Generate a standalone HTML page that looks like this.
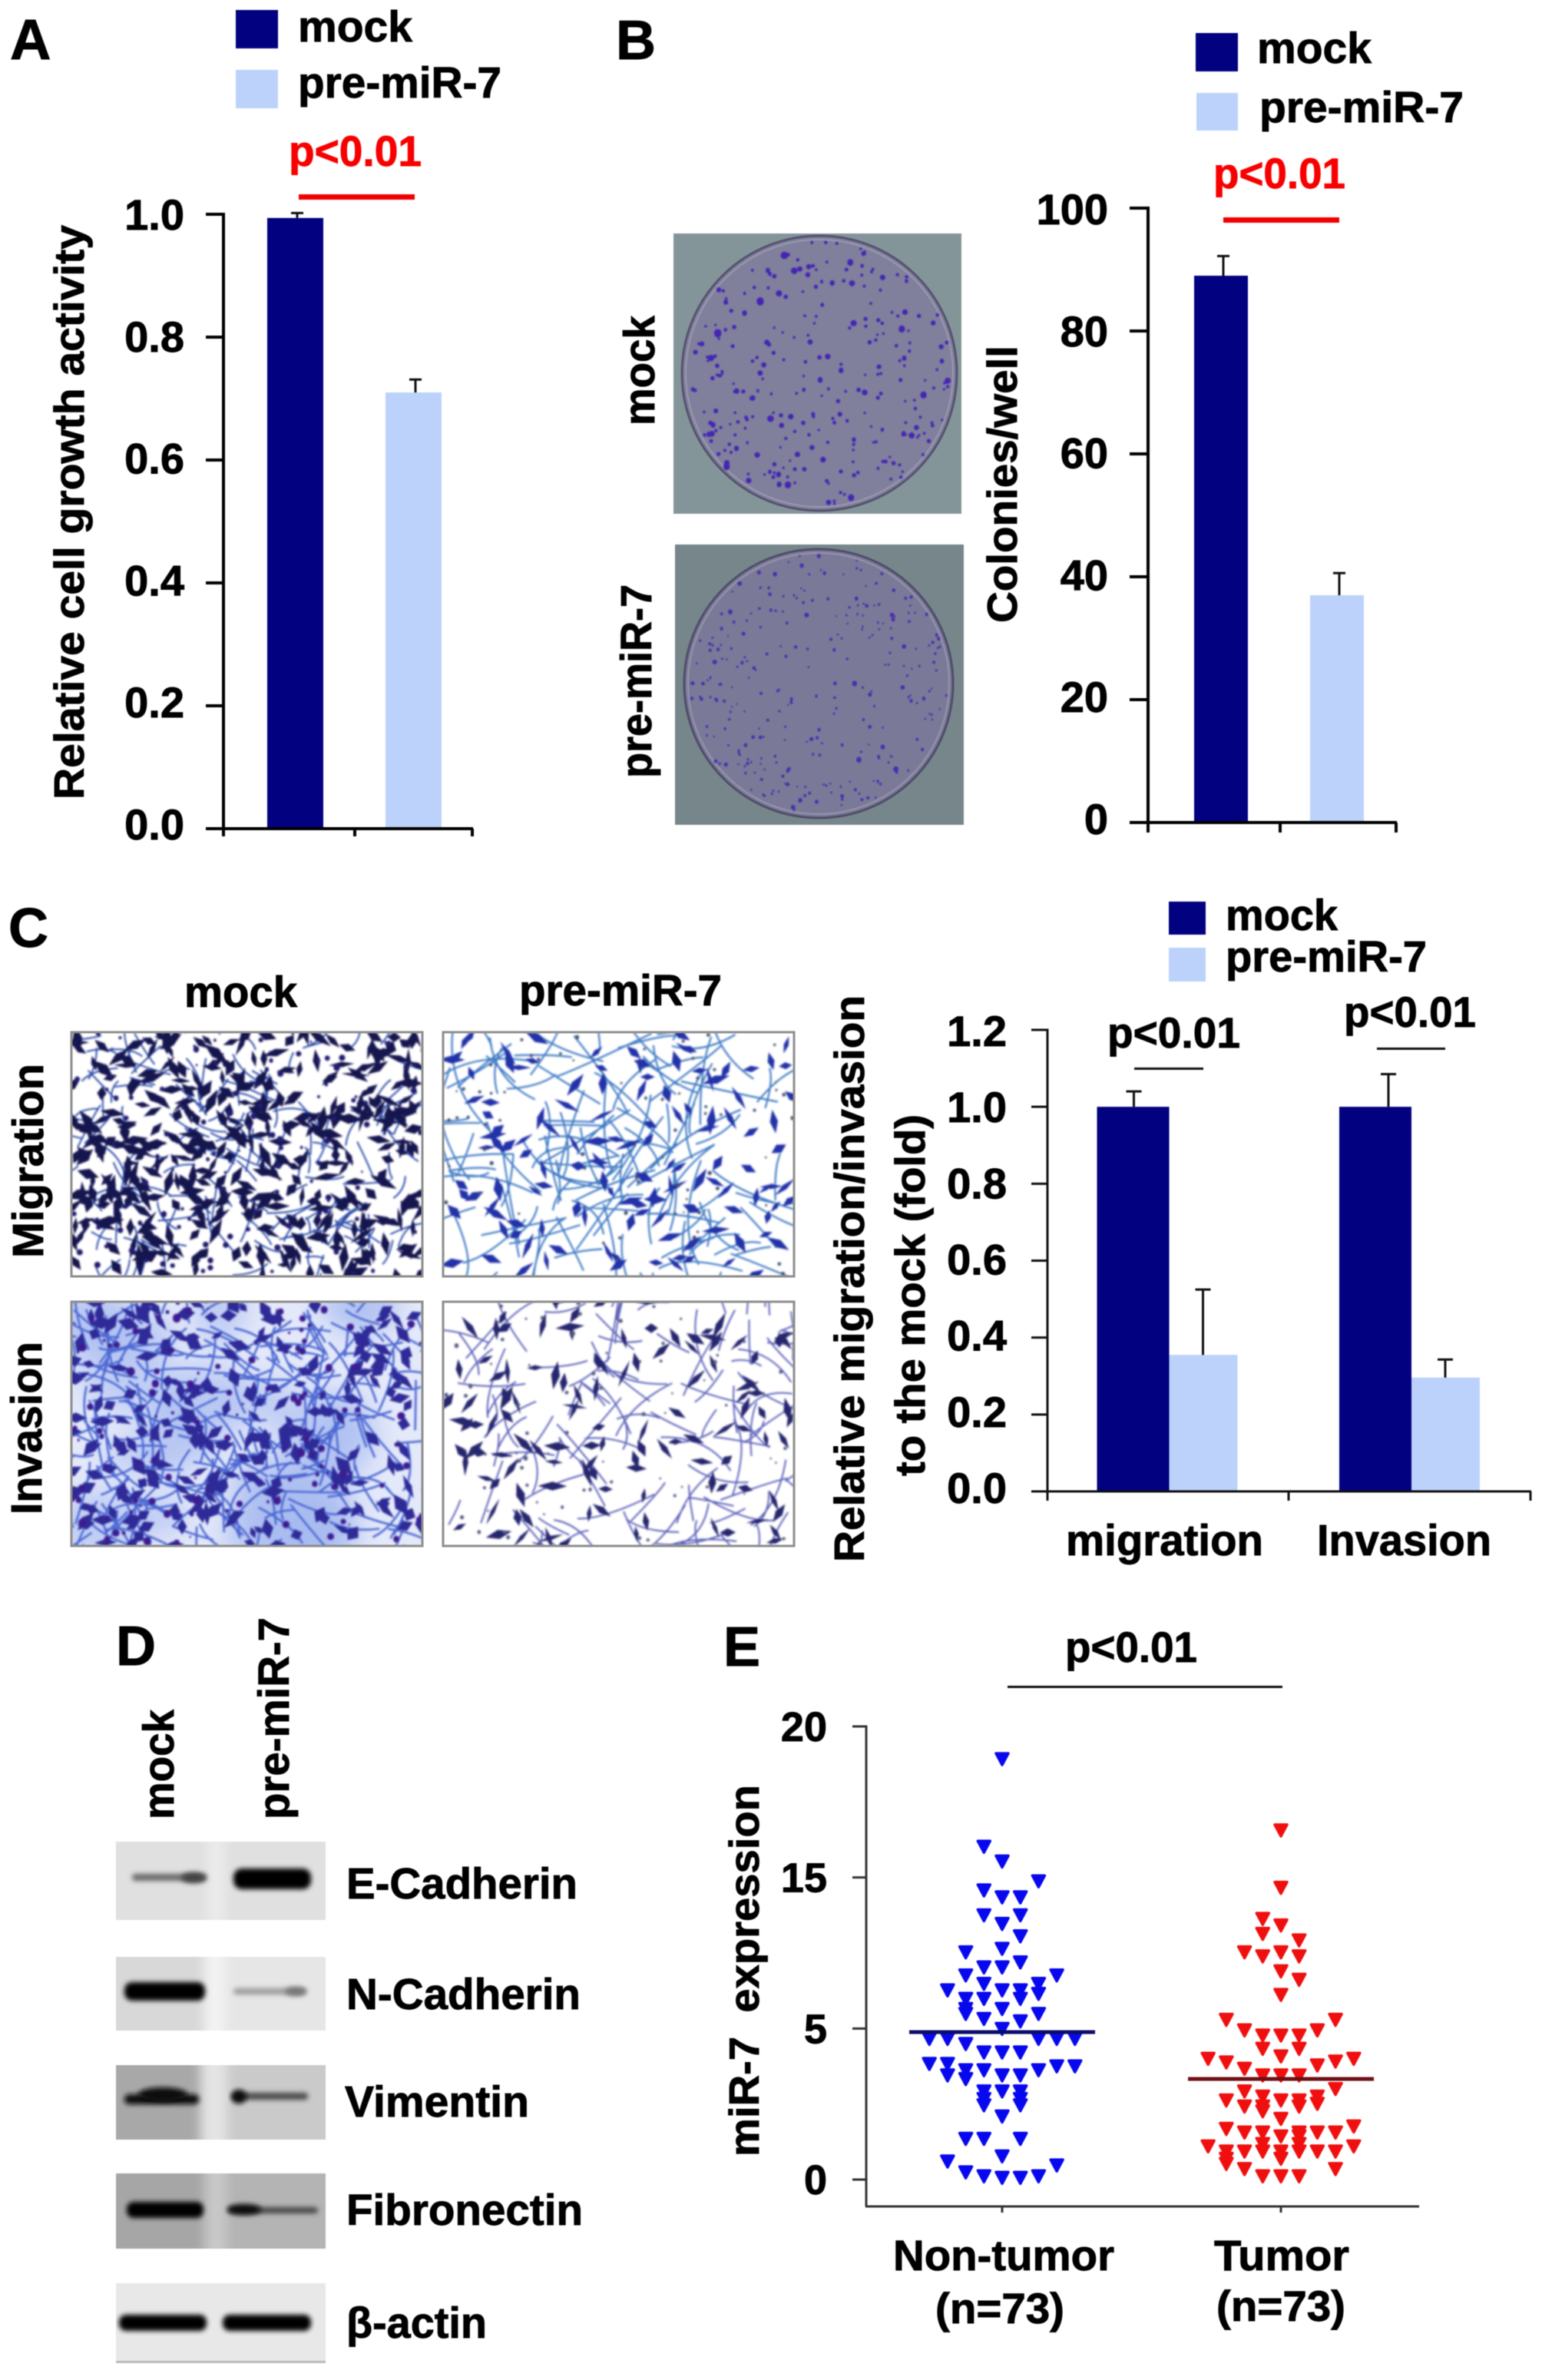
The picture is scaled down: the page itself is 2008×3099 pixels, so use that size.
<!DOCTYPE html>
<html lang="en">
<head>
<meta charset="utf-8">
<title>miR-7 figure</title>
<style>
html,body{margin:0;padding:0;background:#fff;}
svg{display:block;filter:blur(0.6px);}
text{font-family:"Liberation Sans",Arial,sans-serif;font-weight:bold;fill:#000;stroke:#000;stroke-width:0.9px;}
.ttl{font-size:55px;}
.red{fill:#f80000;stroke:#f80000;}
</style>
</head>
<body>
<svg id="fig" xmlns="http://www.w3.org/2000/svg" width="2008" height="3099" viewBox="0 0 2008 3099">
<defs>
<filter id="b1" x="-5%" y="-5%" width="110%" height="110%"><feGaussianBlur stdDeviation="1.1"/></filter>
<filter id="b2" x="-5%" y="-5%" width="110%" height="110%"><feGaussianBlur stdDeviation="0.8"/></filter>
<filter id="b5" x="-20%" y="-120%" width="140%" height="340%"><feGaussianBlur stdDeviation="3.2"/></filter>
<filter id="b9" x="-20%" y="-20%" width="140%" height="140%"><feGaussianBlur stdDeviation="7"/></filter>
<filter id="b14" x="-20%" y="-20%" width="140%" height="140%"><feGaussianBlur stdDeviation="16"/></filter>
<clipPath id="clipM1"><rect x="93" y="1344" width="457" height="318"/></clipPath>
<clipPath id="clipM2"><rect x="577" y="1344" width="457" height="318"/></clipPath>
<clipPath id="clipI1"><rect x="93" y="1695" width="457" height="318"/></clipPath>
<clipPath id="clipI2"><rect x="577" y="1695" width="457" height="318"/></clipPath>
<clipPath id="cb1"><rect x="151" y="2398" width="273" height="102"/></clipPath>
<clipPath id="cb2"><rect x="151" y="2548" width="273" height="96"/></clipPath>
<clipPath id="cb3"><rect x="151" y="2689" width="273" height="97"/></clipPath>
<clipPath id="cb4"><rect x="151" y="2830" width="273" height="98"/></clipPath>
<clipPath id="cb5"><rect x="151" y="2973" width="273" height="104"/></clipPath>
</defs>
<rect width="2008" height="3099" fill="#fff"/>

<!-- Panel letters -->
<text x="13" y="77" font-size="74">A</text>
<text x="802" y="77" font-size="72">B</text>
<text x="11" y="1233" font-size="72">C</text>
<text x="151" y="2168" font-size="72">D</text>
<text x="942" y="2169" font-size="72">E</text>

<!-- Panel A static -->
<g>
<rect x="307" y="13" width="55" height="50" fill="#020281"/>
<rect x="307" y="91" width="55" height="50" fill="#bcd2fb"/>
<text x="388" y="54" font-size="57" textLength="149" lengthAdjust="spacingAndGlyphs">mock</text>
<text x="388" y="127" font-size="57" textLength="265" lengthAdjust="spacingAndGlyphs">pre-miR-7</text>
</g>
<text class="red" x="376" y="216" font-size="56" textLength="173" lengthAdjust="spacingAndGlyphs">p&lt;0.01</text>
<rect x="389" y="253" width="151" height="7" fill="#f00000"/>
<text class="ttl" transform="translate(109,1041) rotate(-90)" textLength="748" lengthAdjust="spacingAndGlyphs">Relative cell growth activity</text>
<g id="chartA"></g>

<!-- Panel B static -->
<g>
<rect x="877" y="304" width="375" height="365" fill="#84959a"/>
<circle cx="1067" cy="486" r="179" fill="#80809c" stroke="#55536f" stroke-width="3"/>
<circle cx="1067" cy="486" r="174" fill="none" stroke="#9898ae" stroke-width="2"/>
<g id="dish1" filter="url(#b2)"></g>
</g>
<g>
<rect x="879" y="709" width="376" height="365" fill="#76868a"/>
<circle cx="1066" cy="890" r="175" fill="#7a7a98" stroke="#4f4d6a" stroke-width="3"/>
<circle cx="1066" cy="890" r="170" fill="none" stroke="#9494aa" stroke-width="2"/>
<g id="dish2" filter="url(#b2)"></g>
</g>
<text transform="translate(852,554) rotate(-90)" font-size="57" textLength="143" lengthAdjust="spacingAndGlyphs">mock</text>
<text transform="translate(848,1013) rotate(-90)" font-size="57" textLength="252" lengthAdjust="spacingAndGlyphs">pre-miR-7</text>
<g>
<rect x="1557" y="43" width="55" height="50" fill="#020281"/>
<rect x="1558" y="121" width="54" height="49" fill="#bcd2fb"/>
<text x="1637" y="82" font-size="57" textLength="149" lengthAdjust="spacingAndGlyphs">mock</text>
<text x="1640" y="159" font-size="57" textLength="266" lengthAdjust="spacingAndGlyphs">pre-miR-7</text>
</g>
<text class="red" x="1580" y="245" font-size="56" textLength="172" lengthAdjust="spacingAndGlyphs">p&lt;0.01</text>
<rect x="1593" y="283" width="151" height="7" fill="#f00000"/>
<text class="ttl" transform="translate(1324,811) rotate(-90)" textLength="361" lengthAdjust="spacingAndGlyphs">Colonies/well</text>
<g id="chartB"></g>

<!-- Panel C static -->
<text x="240" y="1311" font-size="57" textLength="147" lengthAdjust="spacingAndGlyphs">mock</text>
<text x="676" y="1309" font-size="57" textLength="264" lengthAdjust="spacingAndGlyphs">pre-miR-7</text>
<text transform="translate(56,1638) rotate(-90)" font-size="57" textLength="253" lengthAdjust="spacingAndGlyphs">Migration</text>
<text transform="translate(54,1972) rotate(-90)" font-size="57" textLength="225" lengthAdjust="spacingAndGlyphs">Invasion</text>
<g><rect x="93" y="1344" width="457" height="318" fill="#fff"/><g id="m1" clip-path="url(#clipM1)"></g><rect x="93" y="1344" width="457" height="318" fill="none" stroke="#8c8c8c" stroke-width="3"/></g>
<g><rect x="577" y="1344" width="457" height="318" fill="#fff"/><g id="m2" clip-path="url(#clipM2)"></g><rect x="577" y="1344" width="457" height="318" fill="none" stroke="#8c8c8c" stroke-width="3"/></g>
<g><rect x="93" y="1695" width="457" height="318" fill="#e4e9fa"/><g id="m3" clip-path="url(#clipI1)"></g><rect x="93" y="1695" width="457" height="318" fill="none" stroke="#8c8c8c" stroke-width="3"/></g>
<g><rect x="577" y="1695" width="457" height="318" fill="#fff"/><g id="m4" clip-path="url(#clipI2)"></g><rect x="577" y="1695" width="457" height="318" fill="none" stroke="#8c8c8c" stroke-width="3"/></g>
<g>
<rect x="1522" y="1174" width="48" height="43" fill="#020281"/>
<rect x="1522" y="1234" width="48" height="44" fill="#bcd2fb"/>
<text x="1596" y="1211" font-size="57" textLength="146" lengthAdjust="spacingAndGlyphs">mock</text>
<text x="1596" y="1265" font-size="57" textLength="262" lengthAdjust="spacingAndGlyphs">pre-miR-7</text>
</g>
<text x="1442" y="1364" font-size="56" textLength="173" lengthAdjust="spacingAndGlyphs">p&lt;0.01</text>
<rect x="1477" y="1390" width="90" height="3" fill="#111"/>
<text x="1750" y="1337" font-size="56" textLength="172" lengthAdjust="spacingAndGlyphs">p&lt;0.01</text>
<rect x="1793" y="1364" width="89" height="3" fill="#111"/>
<text class="ttl" transform="translate(1125,2034) rotate(-90)" textLength="738" lengthAdjust="spacingAndGlyphs">Relative migration/invasion</text>
<text class="ttl" transform="translate(1204,1922) rotate(-90)" textLength="471" lengthAdjust="spacingAndGlyphs">to the mock (fold)</text>
<g id="chartC"></g>

<!-- Panel D static -->
<text transform="translate(226,2369) rotate(-90)" font-size="57" textLength="143" lengthAdjust="spacingAndGlyphs">mock</text>
<text transform="translate(376,2369) rotate(-90)" font-size="57" textLength="263" lengthAdjust="spacingAndGlyphs">pre-miR-7</text>

<g clip-path="url(#cb1)">
<g filter="url(#b9)"><rect x="130" y="2380" width="320" height="140" fill="#e0e0e0"/><rect x="270" y="2380" width="22" height="140" fill="#ebebeb"/></g>
<rect x="172" y="2440" width="97" height="9" rx="4" fill="#666" filter="url(#b5)"/>
<ellipse cx="252" cy="2445" rx="16" ry="7" fill="#444" filter="url(#b5)"/>
<rect x="304" y="2433" width="101" height="27" rx="11" fill="#000" filter="url(#b5)"/>
</g>
<g clip-path="url(#cb2)">
<g filter="url(#b9)"><rect x="130" y="2530" width="320" height="130" fill="#e6e6e6"/><rect x="130" y="2530" width="135" height="130" fill="#d8d8d8"/><rect x="268" y="2530" width="24" height="130" fill="#f3f3f3"/></g>
<rect x="162" y="2581" width="105" height="24" rx="10" fill="#000" filter="url(#b5)"/>
<rect x="304" y="2589" width="95" height="8" rx="4" fill="#999" filter="url(#b5)"/>
<ellipse cx="385" cy="2593" rx="14" ry="6" fill="#777" filter="url(#b5)"/>
</g>
<g clip-path="url(#cb3)">
<g filter="url(#b9)"><rect x="130" y="2670" width="320" height="130" fill="#cacaca"/><rect x="130" y="2670" width="131" height="130" fill="#a8a8a8"/><rect x="263" y="2670" width="32" height="130" fill="#e4e4e4"/></g>
<rect x="162" y="2727" width="97" height="13" rx="6" fill="#0c0c0c" filter="url(#b5)"/>
<ellipse cx="212" cy="2727" rx="32" ry="9" fill="#0c0c0c" filter="url(#b5)"/>
<rect x="303" y="2725" width="98" height="9" rx="4" fill="#444" filter="url(#b5)"/>
<ellipse cx="311" cy="2730" rx="10" ry="9" fill="#111" filter="url(#b5)"/>
</g>
<g clip-path="url(#cb4)">
<g filter="url(#b9)"><rect x="130" y="2810" width="320" height="135" fill="#b4b4b4"/><rect x="130" y="2810" width="135" height="135" fill="#a6a6a6"/><rect x="268" y="2810" width="27" height="135" fill="#c8c8c8"/></g>
<rect x="165" y="2867" width="100" height="21" rx="9" fill="#000" filter="url(#b5)"/>
<rect x="297" y="2874" width="117" height="8" rx="4" fill="#444" filter="url(#b5)"/>
<ellipse cx="318" cy="2877" rx="22" ry="7" fill="#111" filter="url(#b5)"/>
</g>
<g clip-path="url(#cb5)">
<rect x="151" y="2973" width="273" height="104" fill="#e8e8e8"/>
<rect x="155" y="3014" width="114" height="21" rx="9" fill="#000" filter="url(#b5)"/>
<rect x="290" y="3014" width="115" height="21" rx="9" fill="#000" filter="url(#b5)"/>
<rect x="151" y="3074" width="273" height="3" fill="#bbb"/>
</g>
<text x="451" y="2472" font-size="57" textLength="301" lengthAdjust="spacingAndGlyphs">E-Cadherin</text>
<text x="451" y="2616" font-size="57" textLength="305" lengthAdjust="spacingAndGlyphs">N-Cadherin</text>
<text x="449" y="2756" font-size="57" textLength="240" lengthAdjust="spacingAndGlyphs">Vimentin</text>
<text x="451" y="2897" font-size="57" textLength="308" lengthAdjust="spacingAndGlyphs">Fibronectin</text>
<text x="451" y="3044" font-size="57" textLength="183" lengthAdjust="spacingAndGlyphs">β-actin</text>

<!-- Panel E static -->
<text x="1387" y="2164" font-size="56" textLength="172" lengthAdjust="spacingAndGlyphs">p&lt;0.01</text>
<rect x="1312" y="2195" width="358" height="3" fill="#111"/>
<text class="ttl" transform="translate(988,2808) rotate(-90)" xml:space="preserve" textLength="484" lengthAdjust="spacingAndGlyphs">miR-7  expression</text>
<g id="chartE"></g>
<text x="1218" y="3025" font-size="56" textLength="168" lengthAdjust="spacingAndGlyphs">(n=73)</text>
<text x="1584" y="3022" font-size="56" textLength="168" lengthAdjust="spacingAndGlyphs">(n=73)</text>
</svg>

<script>
/* ---------- chart data ---------- */
const growthCategories = ['mock', 'pre-miR-7'];
const growthMeans = [0.994, 0.71];
const growthErrors = [0.008, 0.021];
const growthTicks = [0, 0.2, 0.4, 0.6, 0.8, 1.0];
const growthTickLabels = ['0.0', '0.2', '0.4', '0.6', '0.8', '1.0'];

const colonyCategories = ['mock', 'pre-miR-7'];
const colonyMeans = [89, 37];
const colonyErrors = [3.2, 3.6];
const colonyTicks = [0, 20, 40, 60, 80, 100];
const colonyTickLabels = ['0', '20', '40', '60', '80', '100'];

const migrationGroups = ['migration', 'Invasion'];
const migrationMock = [1.0, 1.0];
const migrationMockErrors = [0.04, 0.085];
const migrationMir = [0.355, 0.296];
const migrationMirErrors = [0.17, 0.047];
const migrationTicks = [0, 0.2, 0.4, 0.6, 0.8, 1.0, 1.2];
const migrationTickLabels = ['0.0', '0.2', '0.4', '0.6', '0.8', '1.0', '1.2'];

const expressionGroups = ['Non-tumor', 'Tumor'];
const expressionTicks = [0, 5, 15, 20];
const expressionTickLabels = ['0', '5', '15', '20'];
const nonTumorMedian = 4.88;
const tumorMedian = 3.33;
const nonTumorValues = [18.93,16.03,15.54,14.77,14.17,13.71,13.71,12.52,12.52,11.95,11.13,10.30,10.07,9.40,9.07,9.07,8.54,8.54,7.98,7.98,7.55,7.55,7.55,7.32,6.99,6.99,6.99,6.32,6.32,5.99,5.99,5.66,5.50,5.0,4.67,4.67,4.67,4.67,4.67,4.50,4.22,4.22,4.22,3.84,3.84,3.76,3.76,3.63,3.63,3.63,3.46,3.46,3.46,3.34,2.93,2.93,2.93,2.68,2.68,2.47,2.47,2.10,1.36,1.36,1.36,0.78,0.61,0.48,0.25,0.12,0.12,0.07,0.07];
const nonTumorSlots = [0,-1,0,2,-1,0,1,-1,1,0,1,0,-2,1,-1,0,-2,3,-1,2,-3,0,1,2,-2,-1,1,-2,0,-2,2,-1,1,0,-4,-3,2,3,4,-2,-1,0,1,-4,-3,3,4,-2,-1,2,-3,0,1,-2,-1,0,1,-1,1,-1,1,0,-2,-1,1,0,-3,3,-2,-1,2,0,1];
const tumorValues = [16.57,14.34,12.28,11.85,11.29,10.86,10.07,10.07,9.80,9.80,8.81,8.25,7.25,5.60,5.60,4.95,4.95,4.78,4.78,4.78,4.34,4.34,4.09,4.01,4.01,3.89,3.92,3.79,3.68,3.46,3.46,3.46,3.01,2.93,2.76,2.76,2.63,2.63,2.63,2.52,2.43,2.43,2.43,2.27,2.02,1.77,1.69,1.57,1.57,1.57,1.57,1.57,1.44,1.44,1.19,1.19,1.11,1.11,0.94,0.94,0.94,0.94,0.94,0.94,0.94,0.70,0.70,0.53,0.36,0.36,0.12,0.12,0.12];
const tumorSlots = [0,0,-1,0,-1,1,-2,0,-1,1,0,1,0,-3,3,-2,2,-1,0,1,-1,1,0,-4,4,-3,3,2,-2,-1,0,1,3,-2,-1,2,-3,0,1,2,-2,-1,1,-1,0,4,-3,-2,-1,1,2,3,0,1,-1,1,-4,4,-3,-2,-1,0,1,2,3,-3,0,-3,-2,3,-1,0,1];

/* ---------- helpers ---------- */
const NS = 'http://www.w3.org/2000/svg';
function mk(tag, attrs, parent) {
  const el = document.createElementNS(NS, tag);
  for (const k in attrs) el.setAttribute(k, attrs[k]);
  parent.appendChild(el);
  return el;
}
function linear(d0, d1, r0, r1) {
  return function (v) { return r0 + (v - d0) / (d1 - d0) * (r1 - r0); };
}
function piecewise(domain, r0, step) {
  return function (v) {
    let i = 0;
    while (i < domain.length - 2 && v > domain[i + 1]) i++;
    return r0 + (i + (v - domain[i]) / (domain[i + 1] - domain[i])) * step;
  };
}
function drawYAxis(parent, y, ticks, labels, o) {
  const axis = mk('line', {x1: o.x, x2: o.x, y1: y(ticks[ticks.length - 1]) - o.sw / 2, y2: o.bottom, stroke: o.color, 'stroke-width': o.sw}, parent);
  
  
  ticks.forEach(function (t, i) {
    const tick = mk('line', {x1: o.tickLeft, x2: o.x, y1: y(t), y2: y(t), stroke: o.color, 'stroke-width': o.sw}, parent);
    
    
    const frac = i / (ticks.length - 1);
    const label = mk('text', {x: o.labelRight, y: y(t) + o.dyBottom + (o.dyTop - o.dyBottom) * frac, 'text-anchor': 'end', 'font-size': o.fs}, parent);
    label.textContent = labels[i];
    
    
  });
}
function drawXAxis(parent, o) {
  const axis = mk('line', {x1: o.left, x2: o.right, y1: o.y, y2: o.y, stroke: o.color, 'stroke-width': o.sw}, parent);
  
  
  o.tickXs.forEach(function (x) {
    const tick = mk('line', {x1: x, x2: x, y1: o.y, y2: o.tickBottom, stroke: o.color, 'stroke-width': o.sw}, parent);
    
    
  });
}
function drawBar(parent, y, left, width, mean, err, fill, errX, capHalf) {
  const bar = mk('rect', {x: left, y: y(mean), width: width, height: y(0) - y(mean), fill: fill}, parent);
  
  
  const stem = mk('line', {x1: errX, x2: errX, y1: y(mean), y2: y(mean + err), stroke: '#111', 'stroke-width': 3}, parent);
  
  
  const cap = mk('line', {x1: errX - capHalf, x2: errX + capHalf, y1: y(mean + err), y2: y(mean + err), stroke: '#111', 'stroke-width': 3}, parent);
  
  
}
const DARK = '#020281', LIGHT = '#bcd2fb';

/* ---------- Panel A ---------- */
(function () {
  const g = document.getElementById('chartA');
  const y = linear(0, 1, 1079, 279);
  growthCategories.forEach(function (c, i) {
    const left = 348 + i * 154;
    drawBar(g, y, left, 73, growthMeans[i], growthErrors[i], i ? LIGHT : DARK, left + 39, 8);
  });
  drawYAxis(g, y, growthTicks, growthTickLabels, {x: 291, tickLeft: 268, labelRight: 240, dyBottom: 14, dyTop: 20, fs: 56, sw: 4, color: '#000', bottom: 1089});
  drawXAxis(g, {left: 268, right: 616, y: y(0), tickXs: [291, 462, 615], tickBottom: 1089, sw: 4, color: '#000'});
})();

/* ---------- Panel B ---------- */
(function () {
  const g = document.getElementById('chartB');
  const y = linear(0, 100, 1071, 271);
  colonyCategories.forEach(function (c, i) {
    const left = 1555 + i * 151;
    drawBar(g, y, left, 70, colonyMeans[i], colonyErrors[i], i ? LIGHT : DARK, left + 38, 8);
  });
  drawYAxis(g, y, colonyTicks, colonyTickLabels, {x: 1495, tickLeft: 1471, labelRight: 1443, dyBottom: 15, dyTop: 21, fs: 56, sw: 4, color: '#000', bottom: 1084});
  drawXAxis(g, {left: 1471, right: 1819, y: y(0), tickXs: [1495, 1667, 1818], tickBottom: 1084, sw: 4, color: '#000'});
})();

/* ---------- Panel C ---------- */
(function () {
  const g = document.getElementById('chartC');
  const y = linear(0, 1.2, 1942, 1341);
  migrationGroups.forEach(function (name, i) {
    const mid = 1522.5 + i * 315.5;
    drawBar(g, y, mid - 94, 94, migrationMock[i], migrationMockErrors[i], DARK, mid - 46 + i * 16, 10);
    drawBar(g, y, mid, 89, migrationMir[i], migrationMirErrors[i], LIGHT, mid + 44, 10);
    const t = mk('text', {x: i ? 1715 : 1388, y: 2025, 'font-size': 57, textLength: i ? 227 : 257, lengthAdjust: 'spacingAndGlyphs'}, g);
    t.textContent = name;
    
    
  });
  drawYAxis(g, y, migrationTicks, migrationTickLabels, {x: 1364, tickLeft: 1343, labelRight: 1311, dyBottom: 15, dyTop: 21, fs: 56, sw: 3, color: '#111', bottom: 1954});
  drawXAxis(g, {left: 1343, right: 1994, y: y(0), tickXs: [1364, 1678, 1993], tickBottom: 1954, sw: 3, color: '#111'});
})();

/* ---------- Panel E ---------- */
(function () {
  const g = document.getElementById('chartE');
  const y = piecewise(expressionTicks, 2838, -590 / 3);
  const slotX = function (group, slot) { return 1305 + group * 363 + slot * 23.7; };
  function drawSwarm(values, slots, group, fill) {
    values.forEach(function (v, i) {
      const cx = slotX(group, slots[i]), cy = y(v);
      const p = mk('polygon', {points: (cx - 8) + ',' + (cy - 7) + ' ' + (cx + 8) + ',' + (cy - 7) + ' ' + cx + ',' + (cy + 8), fill: fill, stroke: fill, 'stroke-width': 3.5, 'stroke-linejoin': 'round'}, g);
      
      
    });
  }
  drawSwarm(nonTumorValues, nonTumorSlots, 0, '#0808ee');
  drawSwarm(tumorValues, tumorSlots, 1, '#f00f0f');
  [[nonTumorMedian, 0, '#0b0b6a'], [tumorMedian, 1, '#6e0f14']].forEach(function (m) {
    const cx = slotX(m[1], 0);
    const line = mk('line', {x1: cx - 121, x2: cx + 121, y1: y(m[0]), y2: y(m[0]), stroke: m[2], 'stroke-width': 5}, g);
    
    
  });
  drawYAxis(g, y, expressionTicks, expressionTickLabels, {x: 1128, tickLeft: 1110, labelRight: 1077, dyBottom: 19, dyTop: 19, fs: 54, sw: 3, color: '#333', bottom: 2873});
  drawXAxis(g, {left: 1127, right: 1848, y: 2873, tickXs: [slotX(0, 0), slotX(1, 0)], tickBottom: 2881, sw: 3, color: '#333'});
  expressionGroups.forEach(function (name, i) {
    const t = mk('text', {x: i ? 1581 : 1163, y: 2956, 'font-size': 56, textLength: i ? 176 : 288, lengthAdjust: 'spacingAndGlyphs'}, g);
    t.textContent = name;
    
    
  });
})();

/* ---------- photographic textures (decorative, not chart data) ---------- */
function prng(seed) {
  return function () {
    seed |= 0; seed = seed + 0x6D2B79F5 | 0;
    let t = Math.imul(seed ^ seed >>> 15, 1 | seed);
    t = t + Math.imul(t ^ t >>> 7, 61 | t) ^ t;
    return ((t ^ t >>> 14) >>> 0) / 4294967296;
  };
}
function circlePath(x, y, s) {
  return 'M' + (x - s).toFixed(1) + ' ' + y.toFixed(1) + 'a' + s.toFixed(1) + ' ' + s.toFixed(1) + ' 0 1 0 ' + (2 * s).toFixed(1) + ' 0a' + s.toFixed(1) + ' ' + s.toFixed(1) + ' 0 1 0 ' + (-2 * s).toFixed(1) + ' 0';
}
function dishSpots(id, seed, cx, cy, rad, n, rMin, rMax, edgePow, color) {
  const r = prng(seed), g = document.getElementById(id);
  let d = '';
  for (let i = 0; i < n; i++) {
    const a = r() * Math.PI * 2, q = rad * Math.pow(r(), edgePow);
    d += circlePath(cx + q * Math.cos(a), cy + q * Math.sin(a), rMin + r() * r() * (rMax - rMin));
  }
  mk('path', {d: d, fill: color}, g);
}
dishSpots('dish1', 11, 1067, 486, 172, 270, 1.6, 5.2, 0.4, '#4526b4');
dishSpots('dish2', 27, 1066, 890, 168, 270, 1.2, 3.4, 0.34, '#4a2fae');

function cells(id, seed, x0, y0, w, h, o) {
  const r = prng(seed), g = document.getElementById(id);
  if (o.wash) {
    const wg = mk('g', {filter: 'url(#b14)'}, g);
    for (let i = 0; i < o.wash.n; i++) {
      mk('ellipse', {cx: x0 + r() * w, cy: y0 + r() * h, rx: 30 + r() * 50, ry: 20 + r() * 40, fill: o.wash.color, opacity: 0.6}, wg);
    }
  }
  const tg = mk('g', {filter: 'url(#b1)'}, g);
  let fd = '';
  for (let i = 0; i < o.fibers; i++) {
    const x = x0 + r() * w, y = y0 + r() * h, a = r() * Math.PI * 2, l = o.fibLen * (0.5 + r());
    const mx = x + Math.cos(a) * l / 2 + (r() - 0.5) * l * 0.5, my = y + Math.sin(a) * l / 2 + (r() - 0.5) * l * 0.5;
    fd += 'M' + x.toFixed(1) + ' ' + y.toFixed(1) + 'Q' + mx.toFixed(1) + ' ' + my.toFixed(1) + ' ' + (x + Math.cos(a) * l).toFixed(1) + ' ' + (y + Math.sin(a) * l).toFixed(1);
  }
  mk('path', {d: fd, fill: 'none', stroke: o.fibColor, 'stroke-width': o.fibW}, tg);
  let cd = '';
  for (let i = 0; i < o.n; i++) {
    const x = x0 + r() * w, y = y0 + r() * h, a = r() * Math.PI * 2, l = o.len * (0.6 + r() * 0.8), t = o.thick * (0.6 + r() * 0.8);
    const dx = Math.cos(a), dy = Math.sin(a);
    cd += 'M' + (x - dx * l / 2).toFixed(1) + ' ' + (y - dy * l / 2).toFixed(1) +
      'L' + (x - dy * t / 2).toFixed(1) + ' ' + (y + dx * t / 2).toFixed(1) +
      'L' + (x + dx * l / 2).toFixed(1) + ' ' + (y + dy * l / 2).toFixed(1) +
      'L' + (x + dy * t / 2).toFixed(1) + ' ' + (y - dx * t / 2).toFixed(1) + 'Z';
  }
  mk('path', {d: cd, fill: o.color}, tg);
  let nd = '';
  for (let i = 0; i < o.grains; i++) {
    nd += circlePath(x0 + r() * w, y0 + r() * h, 1.2 + r() * o.grainR);
  }
  mk('path', {d: nd, fill: o.grainColor}, tg);
}
cells('m1', 3, 93, 1344, 457, 318, {n: 430, len: 28, thick: 10, color: '#141250', fibers: 170, fibLen: 42, fibColor: '#2c4aa8', fibW: 2, grains: 130, grainR: 3, grainColor: '#241a70'});
cells('m2', 5, 577, 1344, 457, 318, {n: 130, len: 28, thick: 9, color: '#2431a8', fibers: 130, fibLen: 95, fibColor: '#3c78c4', fibW: 2.2, grains: 70, grainR: 1.5, grainColor: '#44506a'});
cells('m3', 7, 93, 1695, 457, 318, {n: 250, len: 24, thick: 13, color: '#2f2a98', fibers: 260, fibLen: 60, fibColor: '#4d68d2', fibW: 2.6, grains: 130, grainR: 4, grainColor: '#3c1a92', wash: {n: 22, color: '#a9bbf0'}});
cells('m4', 9, 577, 1695, 457, 318, {n: 120, len: 28, thick: 9, color: '#25256e', fibers: 110, fibLen: 70, fibColor: '#5a5eb8', fibW: 2, grains: 70, grainR: 1.5, grainColor: '#555a80'});
</script>
</body>
</html>
